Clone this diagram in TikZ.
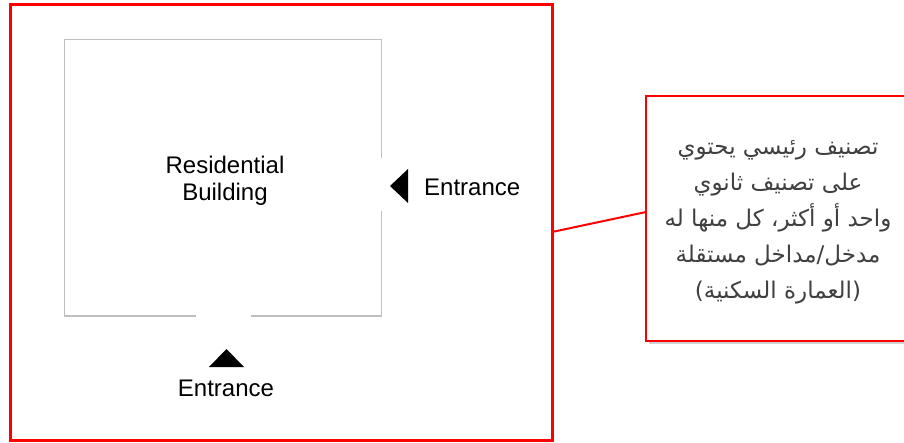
\documentclass[tikz,border=0pt]{standalone}
\usepackage{fontspec}
\setmainfont{Liberation Sans}
\newfontfamily\arabicfont[Script=Arabic]{DejaVu Sans}
\TeXXeTstate=1
\usetikzlibrary{shadows}
\definecolor{wallgray}{HTML}{BFBFBF}
\definecolor{notegray}{HTML}{404040}
\tikzset{
  frame/.style={draw=red, line width=3pt},
  wall/.style={draw=wallgray, line width=1pt},
  marker/.style={fill=black, draw=none},
  label/.style={font=\fontsize{24}{27}\selectfont, text=black, inner sep=0pt},
  note/.style={draw=red, line width=2pt, fill=white, minimum width=260pt, minimum height=245pt,
    drop shadow={shadow xshift=3pt, shadow yshift=-3pt, opacity=0.35, fill=gray}},
  notetext/.style={font=\arabicfont\fontsize{23}{36}\selectfont, text=notegray, align=center, inner sep=0pt},
  link/.style={draw=red, line width=2pt}
}
\begin{document}
\begin{tikzpicture}[x=1pt,y=-1pt]
\useasboundingbox (0,0) rectangle (904,443);
\fill[white] (0,0) rectangle (904,443);

% site boundary
\draw[frame] (10,5) rectangle (552,440);
\coordinate (siteE) at (552,232);

% building outline with two door openings
\draw[wall] (196,316) -- (64,316) -- (64,40) -- (381,40) -- (381,158);
\draw[wall] (381,211) -- (381,316) -- (251,316);

\node[label, align=center] (bldg) at (225,181) {Residential\\Building};

% side entrance
\fill[marker] (390,186) -- (408,169) -- (408,203) -- cycle;
\node[label, anchor=west] (entE) at (424,187) {Entrance};

% front entrance
\fill[marker] (209,367) -- (244,367) -- (226.5,349) -- cycle;
\node[label] (entS) at (226,388) {Entrance};

% explanatory note
\node[note] (callout) at (776,218.5) {};
\coordinate (calloutW) at (646,212);
\node[notetext] (notetxt) at (778,222) {%
  \beginR تصنيف رئيسي يحتوي\endR\\
  \beginR على تصنيف ثانوي\endR\\
  \beginR واحد أو أكثر، كل منها له\endR\\
  \beginR مدخل/مداخل مستقلة\endR\\
  \beginR (العمارة السكنية)\endR};
\draw[link] (siteE) -- (calloutW);
\end{tikzpicture}
\end{document}
